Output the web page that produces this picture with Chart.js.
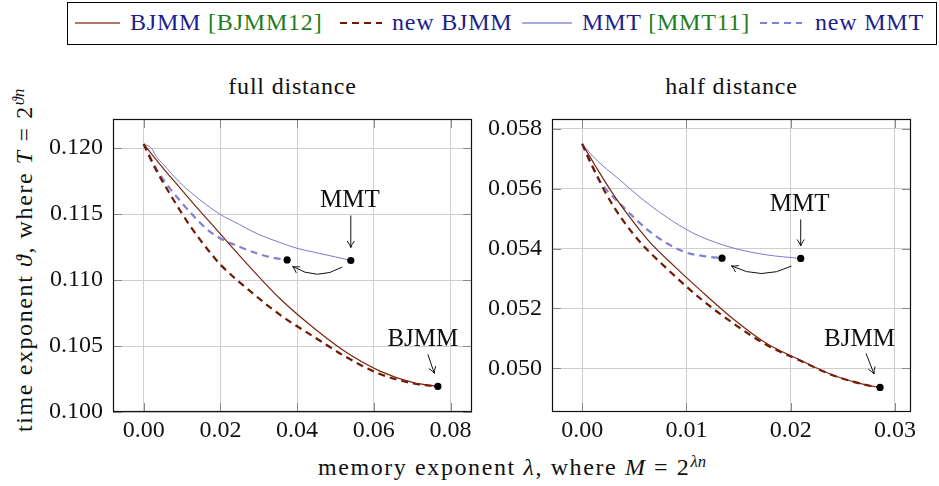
<!DOCTYPE html>
<html>
<head>
<meta charset="utf-8">
<script src="https://cdn.jsdelivr.net/npm/chart.js@4.4.1/dist/chart.umd.min.js"></script>
<style>
  body { margin: 0; width: 939px; height: 486px; position: relative; overflow: hidden; background: #fff;
         font-family: 'Liberation Serif', 'Times New Roman', serif; color: #111; }
  .abs { position: absolute; white-space: nowrap; }
  .txt { font-size: 24px; line-height: 30px; letter-spacing: 0.8px; }
  .axt { font-size: 24px; line-height: 30px; letter-spacing: 1.6px; }
  sup { font-size: 70%; vertical-align: 0.5em; line-height: 0; letter-spacing: 0; }
  #legend { left: 67px; top: 2px; width: 870px; height: 43px; border: 1px solid #000; box-sizing: border-box; }
  .ref { color: #1d1d8f; }
  .cite { color: #1e7d1e; }
  canvas { position: absolute; }
</style>
</head>
<body>
<div id="legend" class="abs"></div>
<svg class="abs" style="left:75px;top:21px" width="45" height="4"><line x1="0" y1="2" x2="45" y2="2" stroke="#9a4a38" stroke-width="1.3"/></svg>
<div class="abs txt" style="left:130px;top:7px"><span class="ref">BJMM</span> <span class="cite">[BJMM12]</span></div>
<svg class="abs" style="left:340px;top:21px" width="42" height="4"><line x1="0" y1="2" x2="42" y2="2" stroke="#701800" stroke-width="2.2" stroke-dasharray="7 5"/></svg>
<div class="abs txt ref" style="left:392px;top:7px">new BJMM</div>
<svg class="abs" style="left:522px;top:21px" width="50" height="4"><line x1="0" y1="2" x2="50" y2="2" stroke="#8c8cd6" stroke-width="1.3"/></svg>
<div class="abs txt" style="left:582px;top:7px"><span class="ref">MMT</span> <span class="cite">[MMT11]</span></div>
<svg class="abs" style="left:760px;top:21px" width="42" height="4"><line x1="0" y1="2" x2="42" y2="2" stroke="#8080d4" stroke-width="2.2" stroke-dasharray="7 5"/></svg>
<div class="abs txt ref" style="left:815px;top:7px">new MMT</div>

<div class="abs txt" style="left:113px;width:359px;top:71px;text-align:center">full distance</div>
<div class="abs txt" style="left:552px;width:359px;top:71px;text-align:center">half distance</div>

<div class="abs axt" style="left:9px;top:432px;transform-origin:0 0;transform:rotate(-90deg)">time exponent <i>ϑ</i>, where <i>T</i> = 2<sup><i>ϑn</i></sup></div>
<div class="abs axt" style="left:112px;width:800px;top:452px;text-align:center">memory exponent <i>λ</i>, where <i>M</i> = 2<sup><i>λn</i></sup></div>

<canvas id="full" width="440" height="330" style="left:40px;top:110px"></canvas>
<canvas id="half" width="459" height="330" style="left:480px;top:110px"></canvas>

<script>
// full distance: memory exponent (x) and time exponent (y)
const fullBjmmX = [0, 0.0050, 0.0094, 0.0137, 0.0198, 0.0267, 0.0355, 0.0442, 0.0529, 0.0616, 0.0703, 0.0767];
const fullBjmmY = [0.1203, 0.1185, 0.11700, 0.11555, 0.11355, 0.1113, 0.1086, 0.1064, 0.1045, 0.1031, 0.10222, 0.10194];
const fullNewBjmmX = [0, 0.0011, 0.0033, 0.0076, 0.0120, 0.0172, 0.0202, 0.0280, 0.0355, 0.0442, 0.0529, 0.0616, 0.0703, 0.0767];
const fullNewBjmmY = [0.1203, 0.1196, 0.1183, 0.11616, 0.11414, 0.11212, 0.11111, 0.1091, 0.10737, 0.10573, 0.10415, 0.10288, 0.10216, 0.10194];
const fullMmtX = [0, 0.0020, 0.0033, 0.0050, 0.0094, 0.0137, 0.0198, 0.0250, 0.0300, 0.0350, 0.0400, 0.0450, 0.0500, 0.0540];
const fullMmtY = [0.1203, 0.1200, 0.11935, 0.1188, 0.1174, 0.1163, 0.1150, 0.1142, 0.11345, 0.1129, 0.1124, 0.11207, 0.11175, 0.11148];
const fullNewMmtX = [0, 0.0033, 0.0059, 0.0094, 0.0129, 0.0163, 0.0198, 0.0241, 0.0285, 0.0328, 0.0374];
const fullNewMmtY = [0.1203, 0.11843, 0.1173, 0.11603, 0.11489, 0.11389, 0.11318, 0.11262, 0.11212, 0.11174, 0.11152];

// half distance
const halfBjmmX = [0, 0.00125, 0.00285, 0.00445, 0.00637, 0.00893, 0.0113, 0.01449, 0.0177, 0.02089, 0.02409, 0.02729, 0.02857];
const halfBjmmY = [0.0575, 0.05677, 0.05588, 0.0551, 0.05426, 0.05338, 0.05262, 0.05165, 0.05083, 0.05028, 0.04977, 0.04944, 0.04936];
const halfNewBjmmX = [0, 0.00061, 0.00141, 0.00221, 0.00381, 0.00573, 0.00797, 0.0113, 0.01449, 0.0177, 0.02089, 0.02409, 0.02729, 0.02857];
const halfNewBjmmY = [0.0575, 0.05702, 0.05644, 0.05588, 0.05499, 0.05415, 0.05338, 0.05234, 0.0515, 0.05078, 0.05026, 0.04976, 0.04944, 0.04936];
const halfMmtX = [0, 0.00125, 0.00349, 0.00573, 0.00765, 0.00988, 0.0113, 0.01437, 0.0177, 0.02096];
const halfMmtY = [0.0575, 0.0570, 0.05633, 0.05566, 0.05516, 0.05466, 0.05441, 0.05403, 0.05379, 0.05367];
const halfNewMmtX = [0, 0.00061, 0.00157, 0.00253, 0.00349, 0.00477, 0.00637, 0.00797, 0.00988, 0.0118, 0.01341];
const halfNewMmtY = [0.0575, 0.0570, 0.05633, 0.05588, 0.05555, 0.0551, 0.0546, 0.05421, 0.05388, 0.05374, 0.05368];

const fullXTicks = [0, 0.02, 0.04, 0.06, 0.08];
const fullYTicks = [0.100, 0.105, 0.110, 0.115, 0.120];
const halfXTicks = [0, 0.01, 0.02, 0.03];
const halfYTicks = [0.050, 0.052, 0.054, 0.056, 0.058];

const seriesStyle = [
  { label: 'BJMM', color: '#7b2410', width: 1.2, dash: [] },
  { label: 'new BJMM', color: '#701800', width: 2.2, dash: [7, 5] },
  { label: 'MMT', color: '#7a7acc', width: 1, dash: [] },
  { label: 'new MMT', color: '#8080d4', width: 2.2, dash: [7, 5] }
];

const serif = "'Liberation Serif', 'Times New Roman', serif";
Chart.defaults.font.family = serif;
Chart.defaults.font.size = 24;
Chart.defaults.color = '#111';

function pts(xs, ys) {
  return xs.map((x, i) => ({ x: x, y: ys[i] }));
}

function arrowHead(ctx, x, y, ang) {
  const len = 6.5, w = 3.6;
  const ux = Math.cos(ang), uy = Math.sin(ang);
  const nx = -uy, ny = ux;
  ctx.beginPath();
  [-1, 1].forEach(s => {
    ctx.moveTo(x - len * ux + s * w * nx, y - len * uy + s * w * ny);
    ctx.quadraticCurveTo(x - len * 0.4 * ux + s * w * 0.2 * nx, y - len * 0.4 * uy + s * w * 0.2 * ny, x, y);
  });
  ctx.stroke();
}

// frame, inner tick marks, end dots and the MMT/BJMM notes
const decor = {
  id: 'decor',
  beforeDatasetsDraw(chart) {
    const { ctx, chartArea: a, scales: { x, y } } = chart;
    ctx.save();
    ctx.strokeStyle = '#8a8a8a';
    ctx.lineWidth = 1;
    ctx.beginPath();
    x.ticks.forEach(t => {
      const px = Math.round(x.getPixelForValue(t.value)) + 0.5;
      ctx.moveTo(px, a.bottom); ctx.lineTo(px, a.bottom - 9);
      ctx.moveTo(px, a.top); ctx.lineTo(px, a.top + 9);
    });
    y.ticks.forEach(t => {
      const py = Math.round(y.getPixelForValue(t.value)) + 0.5;
      ctx.moveTo(a.left, py); ctx.lineTo(a.left + 9, py);
      ctx.moveTo(a.right, py); ctx.lineTo(a.right - 9, py);
    });
    ctx.stroke();
    ctx.restore();
  },
  afterDatasetsDraw(chart, args, opts) {
    const { ctx, chartArea: a } = chart;
    const end = i => {
      const d = chart.getDatasetMeta(i).data;
      return d[d.length - 1];
    };
    ctx.save();
    ctx.strokeStyle = '#111';
    ctx.lineWidth = 1.2;
    ctx.strokeRect(a.left + 0.5, a.top + 0.5, a.right - a.left - 1, a.bottom - a.top - 1);

    ctx.fillStyle = '#000';
    opts.dots.forEach(i => {
      const p = end(i);
      ctx.beginPath();
      ctx.arc(p.x, p.y, 3.6, 0, Math.PI * 2);
      ctx.fill();
    });

    ctx.lineWidth = 1;
    ctx.font = "25px " + serif;
    ctx.textAlign = 'center';
    ctx.textBaseline = 'alphabetic';
    opts.notes.forEach(n => {
      const p = end(n.ds);
      ctx.fillStyle = '#111';
      ctx.fillText(n.text, p.x + n.label[0], p.y + n.label[1] + 8.3);
      const x0 = p.x + n.from[0], y0 = p.y + n.from[1];
      const x1 = p.x + n.to[0], y1 = p.y + n.to[1];
      ctx.beginPath();
      ctx.moveTo(x0, y0);
      ctx.lineTo(x1, y1);
      ctx.stroke();
      arrowHead(ctx, x1, y1, Math.atan2(y1 - y0, x1 - x0));
    });

    const b = opts.bend;
    const p0 = end(b.fromDs), p1 = end(b.toDs);
    const x0 = p0.x + b.from[0], y0 = p0.y + b.from[1];
    const x1 = p1.x + b.to[0], y1 = p1.y + b.to[1];
    const cx = (x0 + x1) / 2, cy = (y0 + y1) / 2 + b.sag;
    ctx.beginPath();
    ctx.moveTo(x0, y0);
    ctx.quadraticCurveTo(cx, cy, x1, y1);
    ctx.stroke();
    arrowHead(ctx, x1, y1, Math.atan2(y1 - cy, x1 - cx));
    ctx.restore();
  }
};

function makeChart(id, series, xr, yr, xTicks, yTicks, xDigits, yDigits, axisW, padRight, notes) {
  return new Chart(document.getElementById(id), {
    type: 'line',
    data: {
      datasets: series.map((s, i) => ({
        label: seriesStyle[i].label,
        data: s,
        borderColor: seriesStyle[i].color,
        borderWidth: seriesStyle[i].width,
        borderDash: seriesStyle[i].dash,
        pointRadius: 0,
        fill: false,
        cubicInterpolationMode: 'monotone'
      }))
    },
    options: {
      responsive: false,
      animation: false,
      devicePixelRatio: 1,
      layout: { padding: { top: 9, right: padRight, left: 0, bottom: 0 } },
      plugins: {
        legend: { display: false },
        tooltip: { enabled: false },
        decor: notes
      },
      scales: {
        x: {
          type: 'linear', min: xr[0], max: xr[1],
          afterBuildTicks: s => { s.ticks = xTicks.map(v => ({ value: v })); },
          afterFit: s => { s.height = 28; s.paddingLeft = 0; s.paddingRight = 0; },
          ticks: { padding: 4, maxRotation: 0, font: { family: serif, size: 24 }, callback: v => v.toFixed(xDigits) },
          grid: { color: '#cfcfcf', lineWidth: 1, drawTicks: false },
          border: { display: false }
        },
        y: {
          type: 'linear', min: yr[0], max: yr[1],
          afterBuildTicks: s => { s.ticks = yTicks.map(v => ({ value: v })); },
          afterFit: s => { s.width = axisW; s.paddingTop = 0; s.paddingBottom = 0; },
          ticks: { padding: 10, font: { family: serif, size: 24 }, callback: v => v.toFixed(yDigits) },
          grid: { color: '#cfcfcf', lineWidth: 1, drawTicks: false },
          border: { display: false }
        }
      }
    },
    plugins: [decor]
  });
}

makeChart('full',
  [pts(fullBjmmX, fullBjmmY), pts(fullNewBjmmX, fullNewBjmmY), pts(fullMmtX, fullMmtY), pts(fullNewMmtX, fullNewMmtY)],
  [-0.008, 0.0856], [0.100, 0.1222], fullXTicks, fullYTicks, 2, 3, 73, 8,
  {
    dots: [0, 2, 3],
    notes: [
      { ds: 2, text: 'MMT', label: [-1, -62], from: [0, -45], to: [0, -13] },
      { ds: 0, text: 'BJMM', label: [-15, -49], from: [-10, -32], to: [-3.5, -13] }
    ],
    bend: { fromDs: 2, toDs: 3, from: [-8.5, 6.5], to: [5.5, 6.5], sag: 15 }
  });

makeChart('half',
  [pts(halfBjmmX, halfBjmmY), pts(halfNewBjmmX, halfNewBjmmY), pts(halfMmtX, halfMmtY), pts(halfNewMmtX, halfNewMmtY)],
  [-0.0029, 0.03154], [0.04854, 0.05833], halfXTicks, halfYTicks, 2, 3, 72, 28,
  {
    dots: [0, 2, 3],
    notes: [
      { ds: 2, text: 'MMT', label: [-1, -56], from: [0, -39], to: [0, -12.5] },
      { ds: 0, text: 'BJMM', label: [-20.5, -50], from: [-14, -34], to: [-6, -13.5] }
    ],
    bend: { fromDs: 2, toDs: 3, from: [-9.3, 7.7], to: [9.4, 7.7], sag: 15 }
  });
</script>
</body>
</html>
